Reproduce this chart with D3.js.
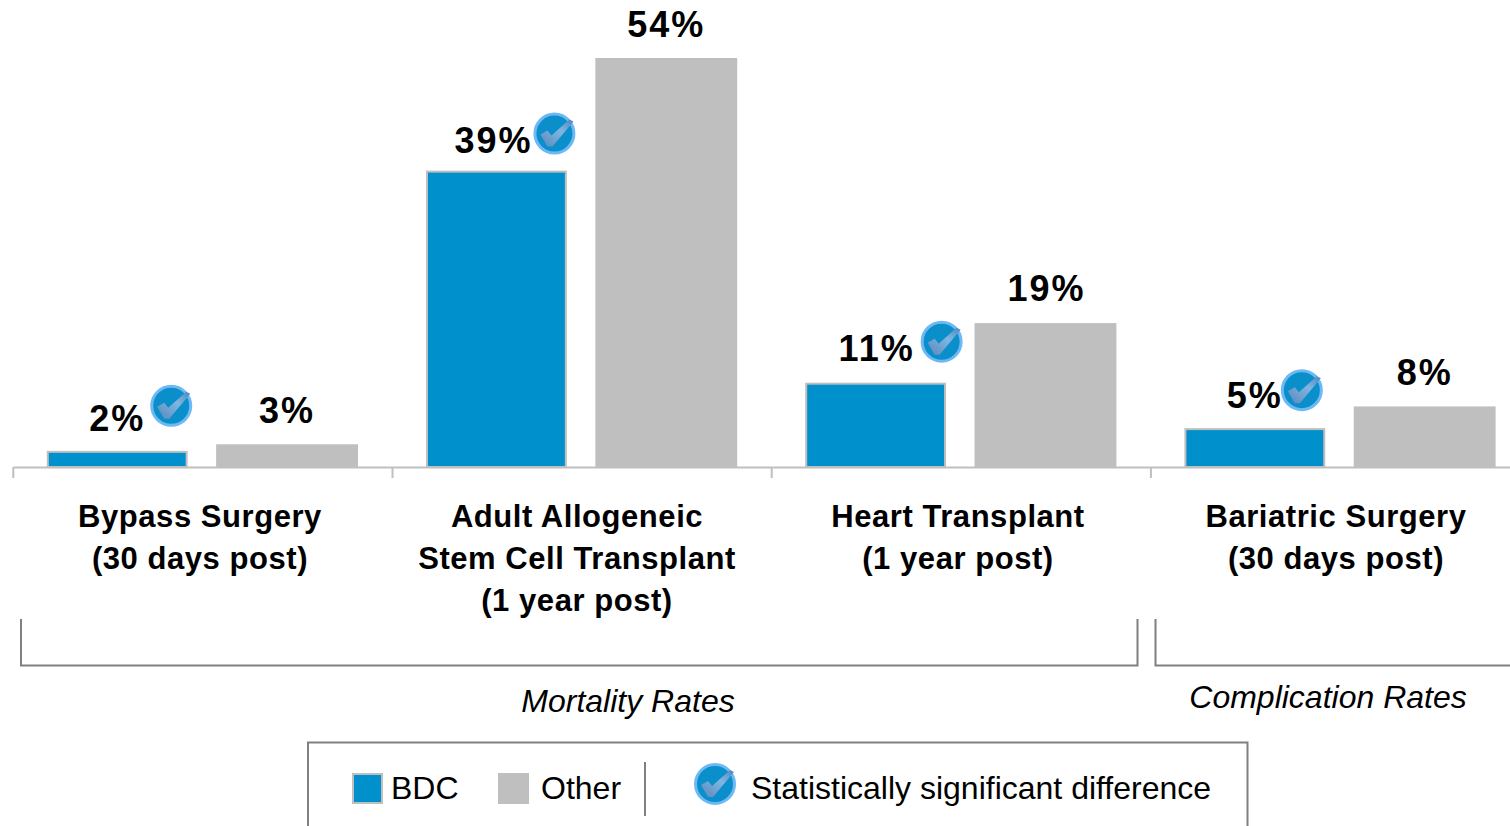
<!DOCTYPE html>
<html>
<head>
<meta charset="utf-8">
<script src="https://cdn.jsdelivr.net/npm/d3@7"></script>
<style>
    html, body { margin: 0; padding: 0; background: #fff; overflow: hidden; }
    text { font-family: "Liberation Sans", Arial, sans-serif; fill: #000; }
    .value { font-size: 36px; font-weight: bold; letter-spacing: 2px; text-anchor: middle; }
    .cat { font-size: 31px; font-weight: bold; letter-spacing: 0.55px; text-anchor: middle; }
    .group { font-size: 32px; font-style: italic; text-anchor: middle; }
    .leg { font-size: 32px; }
</style>
</head>
<body>
<div id="chart"></div>
<script>
// values
const categories = ["Bypass Surgery", "Adult Allogeneic", "Heart Transplant", "Bariatric Surgery"];
const categoryLines = [
    ["Bypass Surgery", "(30 days post)"],
    ["Adult Allogeneic", "Stem Cell Transplant", "(1 year post)"],
    ["Heart Transplant", "(1 year post)"],
    ["Bariatric Surgery", "(30 days post)"]
];
const seriesNames = ["BDC", "Other"];
const bdcValues = [2, 39, 11, 5];
const otherValues = [3, 54, 19, 8];
const significant = [true, true, true, true];

const colors = { BDC: "#0090cb", Other: "#bfbfbf" };

const width = 1510, height = 826;
const baseY = 467;

const svg = d3.select("#chart").append("svg")
    .attr("width", width)
    .attr("height", height)
    .style("display", "block");

const defs = svg.append("defs");
const grad = defs.append("linearGradient").attr("id", "checkFill")
    .attr("x1", "0").attr("y1", "1").attr("x2", "1").attr("y2", "0");
grad.append("stop").attr("offset", "0").attr("stop-color", "#5a87bd");
grad.append("stop").attr("offset", "0.6").attr("stop-color", "#7fb6e0");
grad.append("stop").attr("offset", "1").attr("stop-color", "#4f86bd");

// Scales
const x0 = d3.scaleBand().domain(categories).range([13.3, 13.3 + 379.2 * 4]);
const x1 = d3.scaleBand().domain(seriesNames).range([34, 344.7]).paddingInner(0.1598);
const y = d3.scaleLinear().domain([0, 54]).range([baseY, 58]);

// Check mark badge
function badge(parent, cx, cy) {
    const g = parent.append("g").attr("transform", "translate(" + cx + "," + cy + ")");
    g.append("circle").attr("r", 19.5)
        .attr("fill", "#0a8fca")
        .attr("stroke", "#6db9f6")
        .attr("stroke-width", 3);
    g.append("path")
        .attr("d", "M-14,1 L-7,-3 L-3,2 L15,-14 L19,-12 L-2,13 L-7,13 Z")
        .attr("fill", "url(#checkFill)");
    return g;
}

// Bars
const rows = categories.map((c, i) => ({ cat: c, i: i, BDC: bdcValues[i], Other: otherValues[i] }));

const groups = svg.selectAll(".cat-group").data(rows).enter().append("g")
    .attr("class", "cat-group")
    .attr("transform", d => "translate(" + x0(d.cat) + ",0)");

groups.selectAll("rect")
    .data(d => seriesNames.map(s => ({ s: s, v: d[s] })))
    .enter().append("rect")
    .attr("x", d => d.s === "BDC" ? x1(d.s) + 0.5 : x1(d.s))
    .attr("y", d => y(d.v))
    .attr("width", d => d.s === "BDC" ? x1.bandwidth() - 3 : x1.bandwidth())
    .attr("height", d => baseY - y(d.v))
    .attr("fill", d => colors[d.s])
    .attr("stroke", d => d.s === "BDC" ? "#bfbfbf" : "none")
    .attr("stroke-width", 2);

// Value labels, hand nudged to sit like the reference
const labelNudgeBdc = [[-1, 0], [-4, 2], [0, -2], [-1, 0]];
const labelNudgeOther = [[0, 0], [0, 0], [1, -1], [0, 0]];

groups.selectAll(".value")
    .data(d => seriesNames.map(s => ({ s: s, v: d[s], i: d.i })))
    .enter().append("text")
    .attr("class", "value")
    .attr("x", d => x1(d.s) + x1.bandwidth() / 2 + (d.s === "BDC" ? labelNudgeBdc : labelNudgeOther)[d.i][0])
    .attr("y", d => y(d.v) - 21 + (d.s === "BDC" ? labelNudgeBdc : labelNudgeOther)[d.i][1])
    .text(d => d.v + "%");

// Significance badges, up and to the right of the BDC label
const badgeDx = [53, 57, 65, 46];
const badgeDy = [-46, -38, -42, -39];
groups.filter(d => significant[d.i]).each(function (d) {
    badge(d3.select(this), x1("BDC") + x1.bandwidth() / 2 + badgeDx[d.i], y(d.BDC) + badgeDy[d.i]);
});

// Axis line with outer ticks
const axis = d3.axisBottom(x0).tickSize(0).tickFormat("");
const axisG = svg.append("g").attr("transform", "translate(0," + baseY + ")").call(axis);
axisG.select(".domain").attr("stroke", "#bfbfbf").attr("stroke-width", 2);
axisG.selectAll(".sep").data(categories).enter().append("line")
    .attr("class", "sep")
    .attr("x1", d => x0(d)).attr("x2", d => x0(d))
    .attr("y1", 0).attr("y2", 11)
    .attr("stroke", "#bfbfbf").attr("stroke-width", 2);

// Category labels
const labelCx = [200, 577, 958, 1336];
categoryLines.forEach((lines, i) => {
    lines.forEach((t, j) => {
        svg.append("text").attr("class", "cat")
            .attr("x", labelCx[i])
            .attr("y", 527 + j * 42)
            .text(t);
    });
});

// Brackets under the categories
const bracketColor = "#808080";
svg.append("path")
    .attr("d", "M21,619 V665.5 H1137.5 V619")
    .attr("fill", "none").attr("stroke", bracketColor).attr("stroke-width", 2);
svg.append("path")
    .attr("d", "M1155.5,619 V665.5 H1510")
    .attr("fill", "none").attr("stroke", bracketColor).attr("stroke-width", 2);

svg.append("text").attr("class", "group").attr("x", 628).attr("y", 712).text("Mortality Rates");
svg.append("text").attr("class", "group").attr("x", 1328).attr("y", 708).text("Complication Rates");

// Legend
svg.append("path")
    .attr("d", "M308,826 V742.5 H1247.5 V826")
    .attr("fill", "none").attr("stroke", bracketColor).attr("stroke-width", 2);

svg.append("rect").attr("x", 353).attr("y", 774).attr("width", 29).attr("height", 29)
    .attr("fill", colors.BDC).attr("stroke", "#bfbfbf").attr("stroke-width", 2);
svg.append("text").attr("class", "leg").attr("x", 391).attr("y", 799).text("BDC");
svg.append("rect").attr("x", 498).attr("y", 773).attr("width", 31).attr("height", 31)
    .attr("fill", colors.Other);
svg.append("text").attr("class", "leg").attr("x", 541).attr("y", 799).text("Other");
svg.append("line").attr("x1", 645).attr("x2", 645).attr("y1", 762).attr("y2", 816)
    .attr("stroke", bracketColor).attr("stroke-width", 2);
badge(svg, 715, 784);
svg.append("text").attr("class", "leg").attr("x", 751).attr("y", 799).text("Statistically significant difference");
</script>
</body>
</html>
